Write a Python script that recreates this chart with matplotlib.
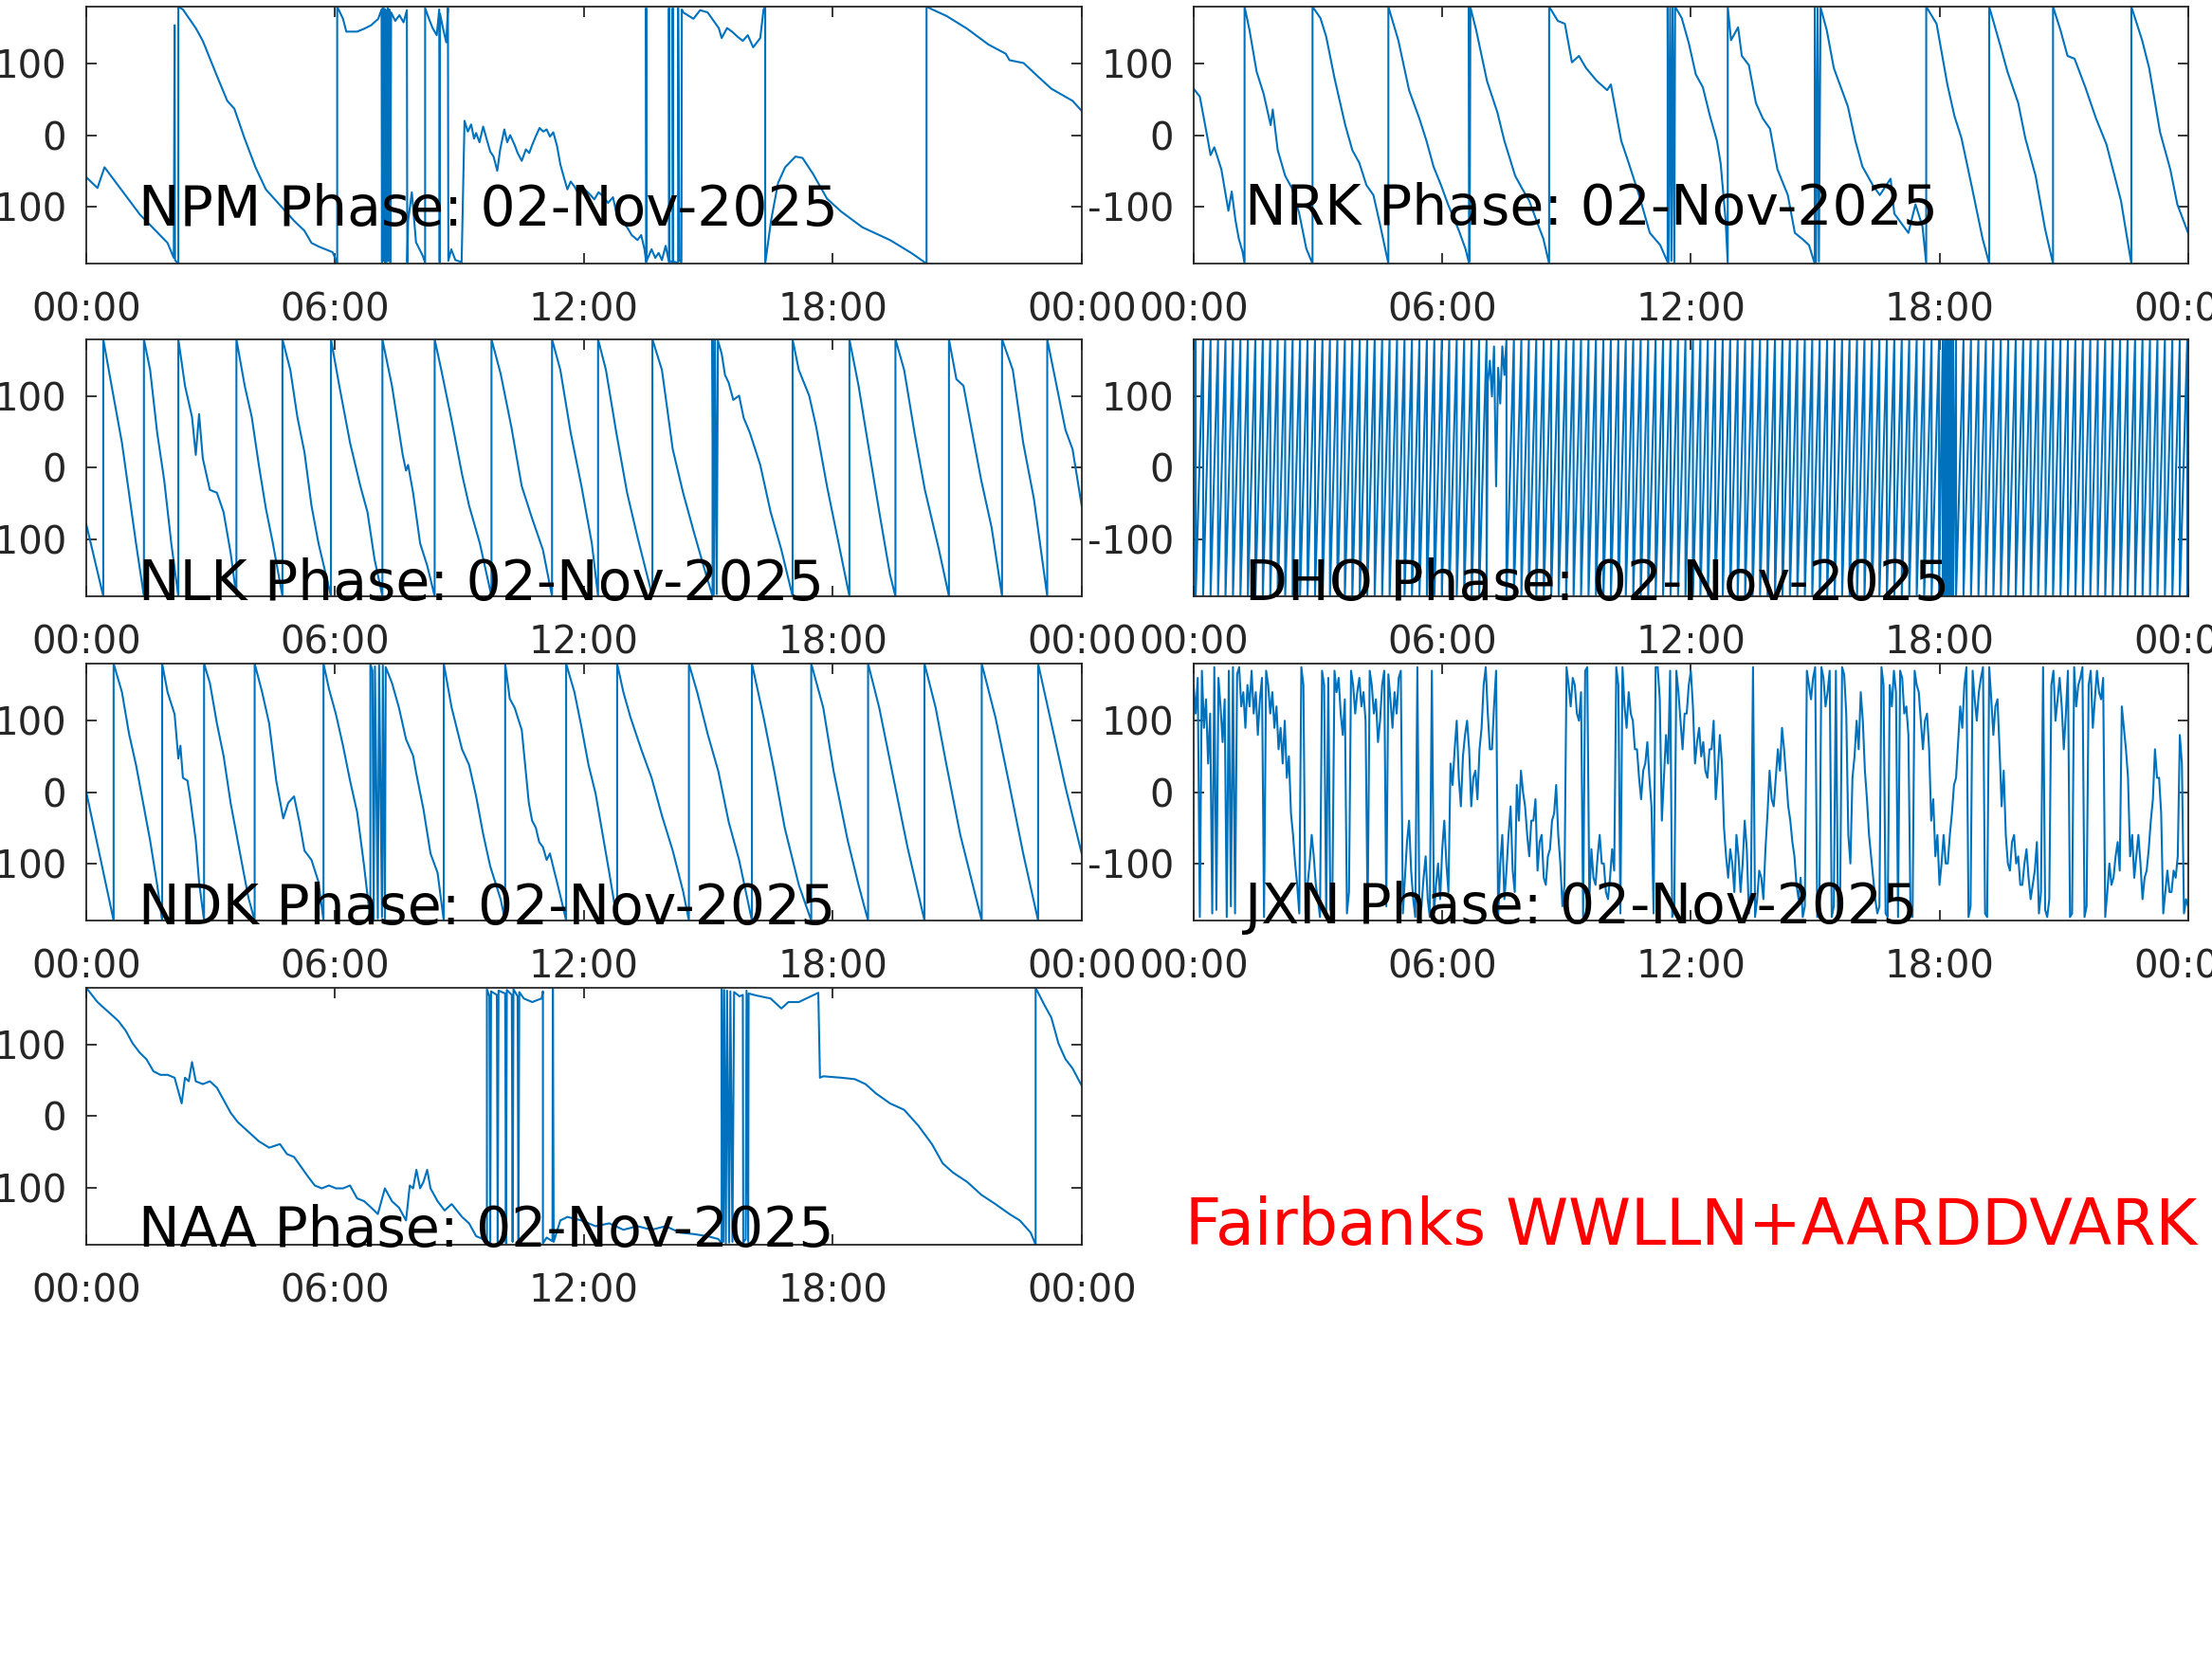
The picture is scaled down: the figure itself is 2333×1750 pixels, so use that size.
import numpy as np
import matplotlib
matplotlib.use('Agg')
import matplotlib.pyplot as plt

plt.rcParams['font.family'] = ['DejaVu Sans']
plt.rcParams['axes.unicode_minus'] = False

DATE_LABEL = '02-Nov-2025'
HOUR_TICKS = [0, 6, 12, 18, 24]
HOUR_LABELS = ['00:00', '06:00', '12:00', '18:00', '00:00']
PHASE_TICKS = [-100, 0, 100]
LINE_COLOR = '#0072BD'
AX_COLOR = '#262626'

# (hour, phase deg) readings
NPM_POINTS = [(0.00,-59),(0.27,-74),(0.44,-45),(1.29,-111),(1.96,-151),(2.11,-172),(2.13,154),(2.14,-175),
    (2.22,-180),(2.22,180),(2.33,176),(2.64,150),(2.81,132),(3.15,83),(3.40,48),(3.57,37),(3.82,-5),(4.08,-45),
    (4.33,-76),(4.67,-98),(5.01,-120),(5.26,-134),(5.43,-151),(5.60,-156),(5.77,-160),(5.94,-164),(6.02,-175),
    (6.05,-180),(6.05,180),(6.19,163),(6.27,145),(6.53,145),(6.70,149),(6.87,154),(7.04,163),(7.12,176),
    (7.13,-178),(7.15,178),(7.17,-176),(7.19,177),(7.21,-179),(7.23,175),(7.25,-177),(7.27,178),(7.29,-176),
    (7.31,176),(7.33,-178),(7.35,172),(7.45,160),(7.55,168),(7.65,158),(7.73,175),(7.74,-178),(7.76,-120),
    (7.85,-80),(7.95,-150),(8.12,-170),(8.17,-179),(8.17,178),(8.25,165),(8.35,150),(8.45,140),(8.51,176),
    (8.52,-178),(8.53,170),(8.60,150),(8.68,130),(8.72,178),(8.73,-176),(8.80,-160),(8.90,-175),(9.05,-178),
    (9.12,20),(9.20,5),(9.28,15),(9.35,-5),(9.40,3),(9.48,-10),(9.57,12),(9.65,-5),(9.74,-23),(9.82,-30),
    (9.91,-50),(9.98,-20),(10.08,8),(10.15,-10),(10.22,0),(10.33,-14),(10.40,-25),(10.50,-36),(10.60,-20),
    (10.68,-25),(10.75,-14),(10.85,0),(10.93,10),(11.02,5),(11.10,8),(11.18,-2),(11.26,4),(11.35,-15),
    (11.43,-41),(11.52,-60),(11.60,-76),(11.68,-65),(11.77,-72),(11.90,-85),(12.00,-75),(12.11,-81),(12.25,-90),
    (12.35,-80),(12.45,-85),(12.58,-95),(12.70,-87),(12.79,-111),(12.90,-120),(13.04,-129),(13.15,-140),
    (13.29,-147),(13.38,-140),(13.46,-160),(13.50,-178),(13.50,178),(13.51,-176),(13.63,-160),(13.72,-172),
    (13.80,-165),(13.88,-175),(13.97,-155),
    (14.05,-178),(14.05,178),(14.06,-176),(14.14,-178),(14.14,178),(14.15,-177),(14.27,-179),(14.27,178),
    (14.30,-175),(14.35,-178),(14.36,176),(14.39,172),(14.50,168),(14.64,163),(14.80,175),(14.98,172),(15.15,158),
    (15.25,150),(15.32,136),(15.45,150),(15.57,145),(15.70,138),(15.83,132),(15.95,140),(16.08,123),(16.25,136),
    (16.33,176),(16.37,180),(16.37,-180),(16.51,-120),(16.68,-67),(16.85,-45),
    (17.10,-30),(17.27,-32),(17.52,-54),(17.86,-89),(18.20,-107),(18.71,-129),(19.38,-147),(19.89,-165),
    (20.26,-180),(20.26,180),(20.40,176),(20.74,167),(21.24,149),(21.75,127),(22.17,114),(22.26,105),(22.60,101),
    (22.93,83),(23.27,65),(23.78,48),(24.00,34)]

NRK_POINTS = [(0.00,65),(0.15,54),(0.32,1),(0.41,-28),(0.50,-17),(0.67,-48),(0.75,-75),(0.84,-106),(0.92,-79),
    (1.01,-119),(1.09,-145),(1.18,-163),(1.23,-180),(1.23,180),(1.35,147),(1.52,89),(1.69,58),(1.86,14),(1.91,36),
    (2.03,-21),(2.21,-57),(2.38,-75),(2.55,-110),(2.72,-159),(2.87,-180),(2.87,180),(3.06,164),(3.20,138),(3.40,80),
    (3.66,14),(3.83,-21),(4.00,-39),(4.17,-70),(4.34,-84),(4.51,-128),(4.70,-180),(4.70,180),(4.94,133),(5.20,63),
    (5.45,23),(5.62,-8),(5.79,-44),(5.97,-70),(6.14,-97),(6.39,-132),(6.56,-159),(6.65,-180),(6.65,180),(6.66,-176),
    (6.68,179),(6.82,147),(7.08,76),(7.33,32),(7.50,-8),(7.76,-57),(7.93,-75),(8.10,-92),(8.27,-119),(8.44,-145),
    (8.58,-180),(8.58,180),(8.79,160),(8.96,156),(9.13,102),(9.30,111),(9.47,94),(9.73,76),(9.98,63),(10.07,71),
    (10.32,-8),(10.50,-39),(10.75,-84),(11.01,-137),(11.26,-154),(11.44,-178),(11.44,180),(11.46,-178),(11.50,178),
    (11.53,-176),(11.56,179),(11.60,-179),(11.62,180),(11.78,164),(11.95,129),(12.12,85),(12.29,67),(12.46,27),
    (12.63,-8),(12.72,-40),(12.84,-120),(12.89,-180),(12.89,180),(12.97,133),(13.14,151),(13.23,111),(13.40,98),
    (13.57,45),(13.74,23),(13.91,9),(14.09,-48),(14.34,-84),(14.51,-137),(14.68,-145),(14.85,-154),(14.99,-180),
    (14.99,180),(15.02,-178),(15.06,178),(15.09,-177),(15.13,179),(15.28,147),(15.45,94),(15.62,67),(15.79,40),
    (15.97,-8),(16.14,-44),(16.39,-70),(16.56,-84),(16.82,-61),(16.91,-110),(17.25,-137),(17.42,-97),(17.59,-128),
    (17.68,-180),(17.68,180),(17.93,156),(18.19,71),(18.36,27),(18.53,-4),(18.79,-75),(19.04,-145),(19.20,-180),
    (19.20,180),(19.47,125),(19.64,89),(19.90,45),(20.07,-4),(20.32,-57),(20.55,-132),(20.74,-180),(20.74,180),
    (20.92,147),(21.09,111),(21.26,107),(21.52,67),(21.78,23),(22.03,-13),(22.38,-92),(22.63,-180),(22.63,180),
    (22.89,133),(23.06,94),(23.32,5),(23.57,-48),(23.74,-97),(24.00,-137)]

NLK_POINTS = [(0.00,-79),(0.41,-180),(0.41,180),(0.61,115),(0.86,35),(1.03,-35),(1.20,-106),(1.39,-180),(1.39,180),
    (1.54,137),(1.71,49),(1.88,-18),(2.05,-106),(2.22,-180),(2.22,180),(2.38,115),(2.55,71),(2.64,18),(2.72,75),
    (2.81,13),(2.98,-31),(3.15,-35),(3.31,-62),(3.48,-119),(3.62,-180),(3.62,180),(3.82,115),(3.99,71),(4.16,4),
    (4.33,-57),(4.50,-106),(4.73,-180),(4.73,180),(4.92,137),(5.09,71),(5.26,22),(5.43,-53),(5.60,-106),(5.90,-180),
    (5.90,180),(6.10,115),(6.36,35),(6.61,-26),(6.78,-62),(6.95,-128),(7.14,-180),(7.14,180),(7.37,115),(7.63,18),
    (7.71,-4),(7.76,4),(7.88,-35),(8.05,-106),(8.22,-137),(8.40,-180),(8.40,180),(8.56,137),(8.81,66),(9.06,-9),
    (9.23,-53),(9.49,-106),(9.77,-180),(9.77,180),(9.99,132),(10.25,57),(10.50,-26),(10.75,-71),(11.01,-115),
    (11.23,-180),(11.23,180),(11.43,137),(11.68,49),(11.94,-26),(12.19,-106),(12.34,-180),(12.34,180),(12.53,137),
    (12.78,49),(13.04,-35),(13.29,-97),(13.65,-180),(13.65,180),(13.88,137),(14.14,26),(14.39,-35),(14.64,-88),
    (14.90,-141),(15.10,-180),(15.10,180),(15.13,-178),(15.16,179),(15.20,-177),(15.23,178),(15.32,160),(15.40,130),
    (15.49,119),(15.60,95),(15.74,101),(15.85,70),(16.00,49),(16.25,4),(16.50,-62),(16.76,-115),(17.03,-180),
    (17.03,180),(17.18,137),(17.43,101),
    (17.60,57),(17.86,-26),(18.11,-97),(18.40,-180),(18.40,180),(18.62,115),(18.87,26),(19.12,-62),(19.38,-150),
    (19.51,-180),(19.51,180),(19.72,137),(19.97,49),(20.22,-31),(20.56,-115),(20.80,-180),(20.80,180),(20.98,124),
    (21.15,115),(21.32,62),(21.58,-18),(21.83,-84),(22.08,-180),(22.08,180),(22.34,137),(22.59,35),(22.85,-44),
    (23.17,-180),(23.17,180),(23.35,128),(23.61,53),(23.78,26),(24.00,-53)]

NDK_POINTS = [(0.00,0),(0.66,-180),(0.66,180),(0.86,140),(1.03,82),(1.20,38),(1.37,-15),(1.54,-68),(1.71,-130),
    (1.83,-180),(1.83,180),(1.96,140),(2.13,109),(2.22,47),(2.27,65),(2.33,20),(2.44,16),(2.50,-6),(2.64,-68),
    (2.72,-126),(2.84,-180),(2.84,180),(2.98,153),(3.15,96),(3.31,51),(3.48,-15),(3.65,-68),(3.91,-148),(4.06,-180),
    (4.06,180),(4.24,140),(4.41,96),(4.58,16),(4.75,-37),(4.87,-15),(5.01,-6),(5.14,-42),(5.26,-82),(5.43,-95),
    (5.60,-126),(5.72,-180),(5.72,180),(5.85,145),(6.02,109),(6.19,65),(6.36,16),(6.53,-28),(6.70,-104),(6.85,-180),
    (6.85,180),(6.90,170),(6.93,-178),(6.96,176),(7.03,-177),(7.06,178),(7.13,-175),(7.15,178),(7.20,-179),
    (7.22,175),(7.37,153),(7.54,118),(7.71,74),(7.88,51),(7.96,25),(8.13,-24),(8.30,-86),(8.47,-113),(8.62,-180),
    (8.62,180),(8.81,118),(9.06,60),(9.23,38),(9.40,-6),(9.57,-59),(9.74,-104),(9.99,-150),(10.10,-180),(10.10,180),
    (10.21,131),(10.33,118),(10.50,87),(10.67,-15),(10.75,-40),(10.84,-50),(10.92,-70),(11.01,-77),(11.10,-95),
    (11.18,-86),(11.28,-110),(11.35,-126),(11.45,-150),(11.57,-180),
    (11.57,180),(11.77,140),(11.94,91),(12.11,38),(12.28,-2),(12.45,-59),(12.61,-113),(12.80,-180),(12.80,180),
    (12.95,140),(13.12,105),(13.38,60),(13.63,20),(13.88,-33),(14.14,-82),(14.39,-139),(14.53,-180),(14.53,180),
    (14.73,140),(14.98,82),(15.24,29),(15.49,-42),(15.74,-95),(16.05,-180),(16.05,180),(16.33,105),(16.59,29),
    (16.84,-50),(17.18,-130),(17.48,-180),(17.48,180),(17.77,118),(18.02,29),(18.36,-68),(18.62,-130),(18.85,-180),
    (18.85,180),(19.12,118),(19.46,20),(19.80,-77),(20.21,-180),(20.21,180),(20.48,118),(20.74,38),(21.07,-59),
    (21.59,-180),(21.59,180),(21.92,105),(22.25,12),(22.59,-86),(22.95,-180),(22.95,180),(23.27,96),(23.61,7),
    (24.00,-86)]

NAA_POINTS = [(0.00,180),(0.27,160),(0.44,151),(0.69,138),(0.78,133),(0.95,120),(1.12,102),(1.29,89),(1.45,80),
    (1.62,63),(1.79,58),(1.96,58),(2.13,54),(2.30,18),(2.38,54),(2.47,49),(2.55,76),(2.64,49),(2.81,45),(2.98,49),
    (3.15,40),(3.31,23),(3.48,5),(3.65,-8),(3.82,-17),(3.99,-26),(4.16,-35),(4.41,-44),(4.67,-39),(4.84,-53),
    (5.01,-57),(5.17,-70),(5.34,-84),(5.51,-97),(5.68,-101),(5.85,-97),(6.02,-101),(6.19,-101),(6.36,-97),
    (6.53,-115),(6.70,-119),(6.87,-128),(7.03,-137),(7.20,-101),(7.37,-119),(7.54,-128),(7.71,-146),(7.80,-97),
    (7.88,-101),(7.96,-75),(8.05,-101),(8.13,-92),(8.22,-75),(8.30,-101),(8.47,-119),(8.64,-132),(8.81,-123),
    (9.06,-141),(9.23,-150),(9.40,-168),(9.57,-172),(9.66,-178),(9.66,178),(9.72,168),(9.74,-178),(9.76,175),
    (9.90,170),(9.92,-177),(9.94,176),(10.10,172),(10.12,-178),(10.14,177),(10.26,170),(10.28,-176),(10.30,178),
    (10.40,168),(10.42,-177),(10.44,174),(10.55,165),(10.75,160),(10.98,165),(11.01,175),(11.01,-178),(11.10,-170),
    (11.24,-175),(11.25,179),(11.27,-176),(11.43,-146),(11.60,-141),(11.94,-146),(12.28,-154),(12.61,-150),
    (12.95,-159),(13.29,-154),(13.63,-159),(13.97,-154),(14.31,-163),(14.64,-165),(14.98,-168),(15.24,-172),
    (15.32,-178),(15.32,178),(15.36,-176),(15.38,177),(15.42,-178),(15.45,176),(15.50,-177),(15.53,175),(15.58,-176),
    (15.62,174),(15.75,168),(15.83,170),(15.84,-177),(15.90,-172),(15.92,176),(15.96,-176),(15.97,172),(16.17,169),
    (16.50,165),(16.76,151),(16.93,160),(17.18,160),(17.43,167),(17.65,173),(17.69,54),(17.77,56),(18.20,54),
    (18.53,52),(18.79,45),(19.04,32),(19.38,18),(19.72,9),(20.06,-13),(20.39,-39),(20.65,-66),(20.90,-79),
    (21.24,-92),(21.58,-110),(21.92,-123),(22.26,-137),(22.51,-146),(22.77,-163),(22.89,-180),(22.89,180),
    (23.10,156),(23.27,138),(23.44,102),(23.61,80),(23.78,67),(24.00,43)]

# DHO: hours at which the phase wraps (fast sawtooth), plus an irregular stretch
DHO_WRAPS = [0.05,0.23,0.41,0.59,0.77,0.95,1.13,1.31,1.49,1.67,1.85,2.03,2.21,2.39,2.57,2.75,2.93,3.11,3.29,3.47,
    3.65,3.83,4.01,4.19,4.37,4.55,4.73,4.91,5.09,5.27,5.45,5.63,5.81,5.99,6.17,6.35,6.53,6.71,6.89,7.07]
DHO_IRREGULAR = [(7.10,120),(7.15,150),(7.20,100),(7.25,170),(7.30,-26),(7.35,140),(7.40,90),(7.45,170),(7.50,130),(7.55,180)]
DHO_WRAPS_2 = [7.55,7.73,7.91,8.09,8.27,8.45,8.63,8.81,8.99,9.17,9.35,9.53,9.71,9.89,10.07,10.25,10.43,10.61,10.79,
    10.97,11.15,11.33,11.51,11.69,11.87,12.05,12.23,12.41,12.59,12.77,12.95,13.13,13.31,13.49,13.67,13.85,14.03,
    14.21,14.39,14.57,14.75,14.93,15.11,15.29,15.47,15.65,15.83,16.01,16.19,16.37,16.55,16.73,16.91,17.09,17.27,
    17.45,17.63,17.81,17.99,18.08,18.13,18.17,18.21,18.25,18.29,18.33,18.40,18.58,18.76,18.94,19.12,19.30,19.48,
    19.66,19.84,20.02,20.20,20.38,20.56,20.74,20.92,21.10,21.28,21.46,21.64,21.82,22.00,22.18,22.36,22.54,22.72,
    22.90,23.08,23.26,23.44,23.62,23.80,23.98]

# JXN: phase every 0.05 h (one row = one hour)
JXN_STEP_H = 0.05
JXN_PHASE = [
    150,110,160,-175,170,90,130,40,110,-170,175,-165,160,120,70,130,-175,170,-160,175,
    -170,165,175,120,140,90,150,120,170,110,140,80,130,160,-175,170,150,110,140,90,
    120,60,90,40,100,20,50,-30,-60,-100,-130,-170,175,150,-170,-130,-100,-60,-90,-130,
    -150,-175,170,150,-175,160,-165,-140,170,140,160,110,80,130,-170,-140,170,150,110,140,
    160,120,140,100,-175,170,150,110,130,70,100,150,170,-160,165,130,90,140,110,160,
    170,-170,-120,-70,-40,-110,-150,-175,175,-175,-160,-120,-90,-150,-175,170,-170,-130,-100,-150,
    -80,-40,-100,-140,40,10,60,100,20,-20,50,80,100,60,-20,20,30,-10,60,90,
    150,175,110,60,60,120,170,-175,-100,-60,-150,-110,-60,-20,-110,-140,10,-40,30,0,
    -20,-60,-90,-40,-40,-10,-110,-70,-60,-120,-130,-90,-80,-40,-30,10,-60,-100,-160,-130,
    175,150,120,160,150,110,100,140,-175,170,175,-150,-80,-120,-130,-90,-60,-100,-100,-140,
    -150,-120,-80,-110,175,150,-170,175,120,90,140,110,100,60,60,20,-10,30,40,70,
    20,-20,-170,175,175,130,-40,20,80,40,170,-175,-165,170,140,100,60,110,110,150,
    170,120,40,70,90,50,70,30,20,60,60,100,-10,30,80,40,-50,-90,-120,-80,
    -100,-140,-60,-90,-140,-100,-40,-80,-170,-140,175,-175,-150,-110,-120,-150,-80,-30,30,-10,
    -20,20,60,30,90,60,20,-20,-40,-70,-90,-130,-150,-120,-175,-160,170,150,130,160,
    175,-175,-170,175,160,120,140,170,-175,-160,170,-175,-170,175,165,110,-60,-100,20,50,
    100,60,140,100,30,-10,-60,-90,-120,-150,-170,-160,175,150,-170,-175,150,120,170,140,
    -175,170,160,110,120,80,-170,-175,170,150,140,100,60,100,110,60,-40,-10,-90,-60,
    -130,-100,-60,-100,-100,-60,-30,10,20,70,120,90,150,175,-175,-160,170,130,100,140,
    160,175,-170,-175,175,130,80,120,130,60,-20,30,-60,-100,-110,-70,-60,-100,-90,-130,
    -130,-100,-80,-120,-150,-130,-110,-70,-170,-140,175,-165,-175,-150,150,170,100,130,160,120,
    60,110,170,-175,-170,175,120,150,160,175,-175,-160,150,170,90,130,170,140,130,160,
    -175,-140,-100,-130,-120,-90,-70,-110,120,90,60,20,-90,-60,-120,-90,-60,-100,-150,-120,
    -110,-80,-40,-10,60,20,20,-30,-170,-140,-110,-140,-140,-110,-120,-90,80,40,-170,-150,
    -160]


def points_xy(points):
    arr = np.array(points, dtype=float)
    return arr[:, 0], arr[:, 1]


def dho_xy():
    xs, ys = [], []
    for w in DHO_WRAPS:
        xs += [w, w]
        ys += [180, -180]
    for h, p in DHO_IRREGULAR:
        xs.append(h)
        ys.append(p)
    for w in DHO_WRAPS_2:
        xs += [w, w]
        ys += [180, -180]
    xs.append(24.0)
    ys.append(-80)
    return np.array(xs), np.array(ys)


def jxn_xy():
    y = np.array(JXN_PHASE, dtype=float)
    x = np.arange(len(y)) * JXN_STEP_H
    return x, y


fig = plt.figure(figsize=(23.33, 17.5), dpi=100)

COL_X = [0.0390, 0.5396]
COL_W = [0.4500, 0.4496]
ROW_Y = [0.8411, 0.6406, 0.4451, 0.2497]
ROW_H = 0.1549

panels = [
    ('NPM', 0, 0, points_xy(NPM_POINTS), 0.148),
    ('NRK', 0, 1, points_xy(NRK_POINTS), 0.151),
    ('NLK', 1, 0, points_xy(NLK_POINTS), -0.015),
    ('DHO', 1, 1, dho_xy(), -0.015),
    ('NDK', 2, 0, points_xy(NDK_POINTS), -0.015),
    ('JXN', 2, 1, jxn_xy(), -0.011),
    ('NAA', 3, 0, points_xy(NAA_POINTS), -0.007),
]

for name, r, c, (x, y), ty in panels:
    ax = fig.add_axes([COL_X[c], ROW_Y[r], COL_W[c], ROW_H])
    ax.plot(x, y, color=LINE_COLOR, lw=1.5)
    ax.set_xlim(0, 24)
    ax.set_ylim(-180, 180)
    ax.set_xticks(HOUR_TICKS)
    ax.set_xticklabels(HOUR_LABELS)
    ax.set_yticks(PHASE_TICKS)
    ax.tick_params(axis='both', direction='in', length=8, width=1.3, colors=AX_COLOR,
                   labelsize=29, top=True, right=True)
    ax.tick_params(axis='x', pad=21)
    ax.tick_params(axis='y', pad=15)
    for s in ax.spines.values():
        s.set_color(AX_COLOR)
        s.set_linewidth(1.3)
    ax.text(0.052, ty, f'{name} Phase: {DATE_LABEL}', transform=ax.transAxes,
            fontsize=42, color='black', va='baseline', ha='left', clip_on=False, zorder=5)

fig.text(0.5358, 0.2497, 'Fairbanks WWLLN+AARDDVARK', color='red', fontsize=48,
         va='baseline', ha='left')

fig.savefig('out.png', dpi=100)
